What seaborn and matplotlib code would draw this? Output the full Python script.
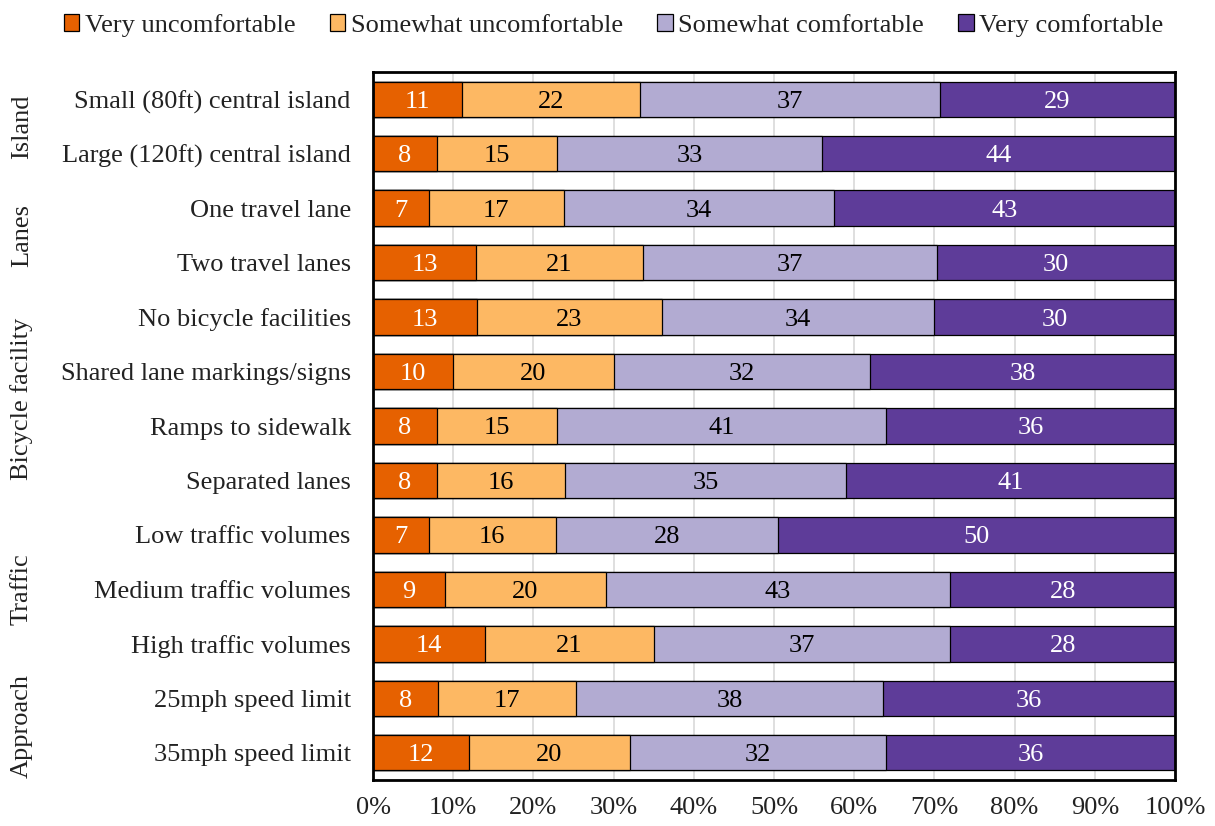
import numpy as np
import pandas as pd
import matplotlib
matplotlib.use("Agg")
import matplotlib.pyplot as plt
import matplotlib.transforms as mtransforms
from matplotlib.patches import Patch
import seaborn as sns

labels = ["Small (80ft) central island", "Large (120ft) central island",
          "One travel lane", "Two travel lanes",
          "No bicycle facilities", "Shared lane markings/signs",
          "Ramps to sidewalk", "Separated lanes",
          "Low traffic volumes", "Medium traffic volumes", "High traffic volumes",
          "25mph speed limit", "35mph speed limit"]
very_unc = [11, 8, 7, 13, 13, 10, 8, 8, 7, 9, 14, 8, 12]
some_unc = [22, 15, 17, 21, 23, 20, 15, 16, 16, 20, 21, 17, 20]
some_com = [37, 33, 34, 37, 34, 32, 41, 35, 28, 43, 37, 38, 32]
very_com = [29, 44, 43, 30, 30, 38, 36, 41, 50, 28, 28, 36, 36]
series_names = ["Very uncomfortable", "Somewhat uncomfortable",
                "Somewhat comfortable", "Very comfortable"]
groups = ["Island", "Lanes", "Bicycle facility", "Traffic", "Approach"]
group_rows = [(0, 1), (2, 3), (4, 7), (8, 10), (11, 12)]
xticks = [0, 10, 20, 30, 40, 50, 60, 70, 80, 90, 100]

colors = ["#E66100", "#FDB863", "#B2ABD2", "#5E3C99"]
text_colors = ["white", "black", "black", "white"]

sns.set_theme(style="white")
plt.rcParams["font.family"] = ["Liberation Serif", "DejaVu Serif"]
FS = 19

vals = np.array([very_unc, some_unc, some_com, very_com], dtype=float)
pct = vals / vals.sum(axis=0) * 100
cum = np.cumsum(pct, axis=0)

fig = plt.figure(figsize=(12.15, 8.26), dpi=100)
ax = fig.add_axes([373 / 1215, 1 - 780 / 826, (1175 - 373) / 1215, (780 - 72) / 826])

for k in range(3, -1, -1):
    df = pd.DataFrame({"label": labels, "value": cum[k]})
    sns.barplot(data=df, x="value", y="label", orient="h", color=colors[k],
                width=0.65, edgecolor="black", linewidth=0.9, ax=ax,
                saturation=1, zorder=2)

for k in range(4):
    start = cum[k] - pct[k]
    for i in range(len(labels)):
        ax.text(start[i] + pct[k][i] / 2, i, f"{int(vals[k][i])}",
                ha="center", va="center_baseline", fontsize=FS,
                color=text_colors[k], zorder=5)

ax.set_xlim(0, 100)
ax.set_ylim(len(labels) - 0.5, -0.5)
ax.set_xticks(xticks)
ax.set_xticklabels([f"{t}%" for t in xticks], fontsize=FS)
ax.tick_params(axis="x", pad=12, length=0, colors="#222222")
ax.tick_params(axis="y", labelsize=FS, length=0, pad=16, colors="#222222")
ax.set_xlabel("")
ax.set_ylabel("")
ax.xaxis.grid(True, color="#D9D9D9", linewidth=1.2, zorder=0)
ax.set_axisbelow(True)
for s in ax.spines.values():
    s.set_visible(True)
    s.set_color("black")
    s.set_linewidth(2)

trans = mtransforms.blended_transform_factory(fig.transFigure, ax.transData)
for g, (a, b) in zip(groups, group_rows):
    ax.text(22 / 1215, (a + b) / 2, g, rotation=90, ha="center", va="center",
            fontsize=FS, color="#222222", transform=trans)

handles = [Patch(facecolor=c, edgecolor="black", linewidth=0.9) for c in colors]
fig.legend(handles, series_names, loc="upper center", bbox_to_anchor=(0.505, 1.012),
           ncol=4, frameon=False, fontsize=FS, handlelength=0.6, handleheight=0.6,
           handletextpad=0.2, columnspacing=1.3, labelcolor="#222222")

fig.savefig("out.png", dpi=100)
